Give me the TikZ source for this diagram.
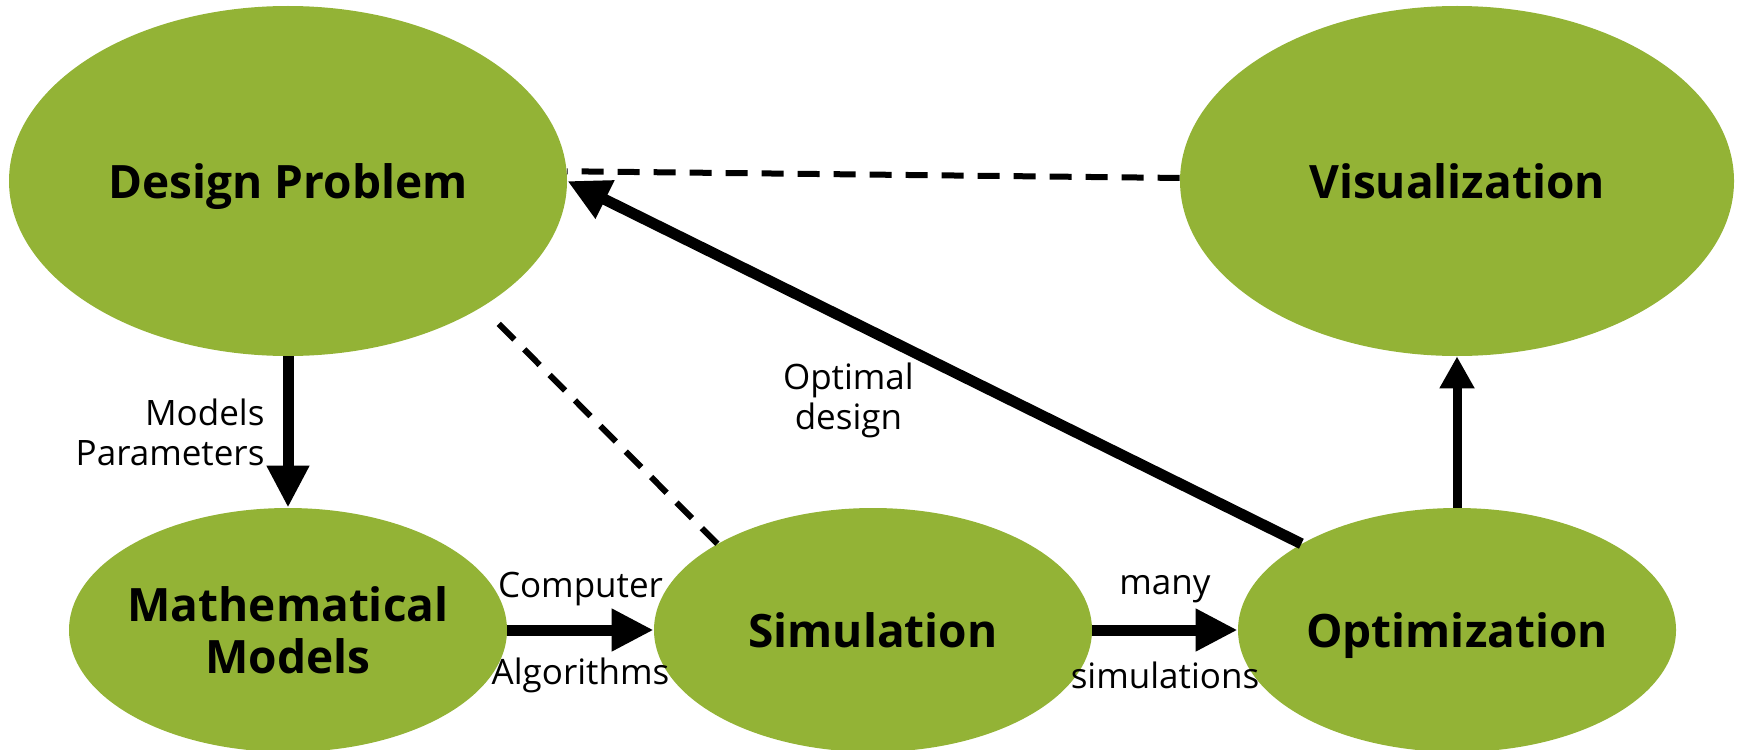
\documentclass[tikz,border=0pt]{standalone}
\usepackage{fontspec}
\setmainfont{Open Sans}
\usetikzlibrary{shapes.geometric,arrows.meta}
\definecolor{leafgreen}{RGB}{147,179,54}
\begin{document}
\begin{tikzpicture}[x=0.5pt,y=-0.5pt,
  blob/.style={fill=leafgreen, shape=ellipse, inner sep=0pt, align=center, text depth=0pt,
    font=\fontsize{23}{26}\selectfont\bfseries},
  flow/.style={line width=5.5pt, -{Triangle[length=21pt,width=20pt]}},
  hint/.style={line width=3pt, dash pattern=on 11pt off 7pt},
  note/.style={font=\fontsize{17.5}{20}\selectfont, inner sep=0pt}]
\useasboundingbox (0,0) rectangle (1743,749);
\node (design) [blob, minimum width=279pt, minimum height=175pt] at (288,181) {Design Problem};
\node (vis) [blob, minimum width=277pt, minimum height=175pt] at (1457,181) {Visualization};
\node (math) [blob, inner xsep=-10pt, minimum width=219pt, minimum height=122pt] at (288,630) {Mathematical\\Models};
\node (sim) [blob, minimum width=219pt, minimum height=122pt] at (873,630) {Simulation};
\node (opt) [blob, minimum width=219pt, minimum height=122pt] at (1457,630) {Optimization};
\draw[hint] (vis) -- (design.2);
\draw[hint, shorten >=8pt] (sim.151) -- (design.-33);
\draw[flow] (design) -- node[note, midway, left=9pt, align=right] {Models\\Parameters} (math);
\draw[flow] (math) -- node[note, midway, yshift=20.5pt] {Computer}
  node[note, midway, yshift=-22.5pt] {Algorithms} (sim);
\draw[flow] (sim) -- node[note, midway, yshift=20.5pt] {many}
  node[note, midway, yshift=-22.5pt] {simulations} (opt);
\draw[flow, line width=4.5pt, -{Triangle[length=16pt,width=16.5pt]}] (opt) -- (vis);
\draw[flow] (opt.151) -- node[note, midway, xshift=-43pt, yshift=-19pt, align=center] {Optimal\\design} (design.east);
\end{tikzpicture}
\end{document}
